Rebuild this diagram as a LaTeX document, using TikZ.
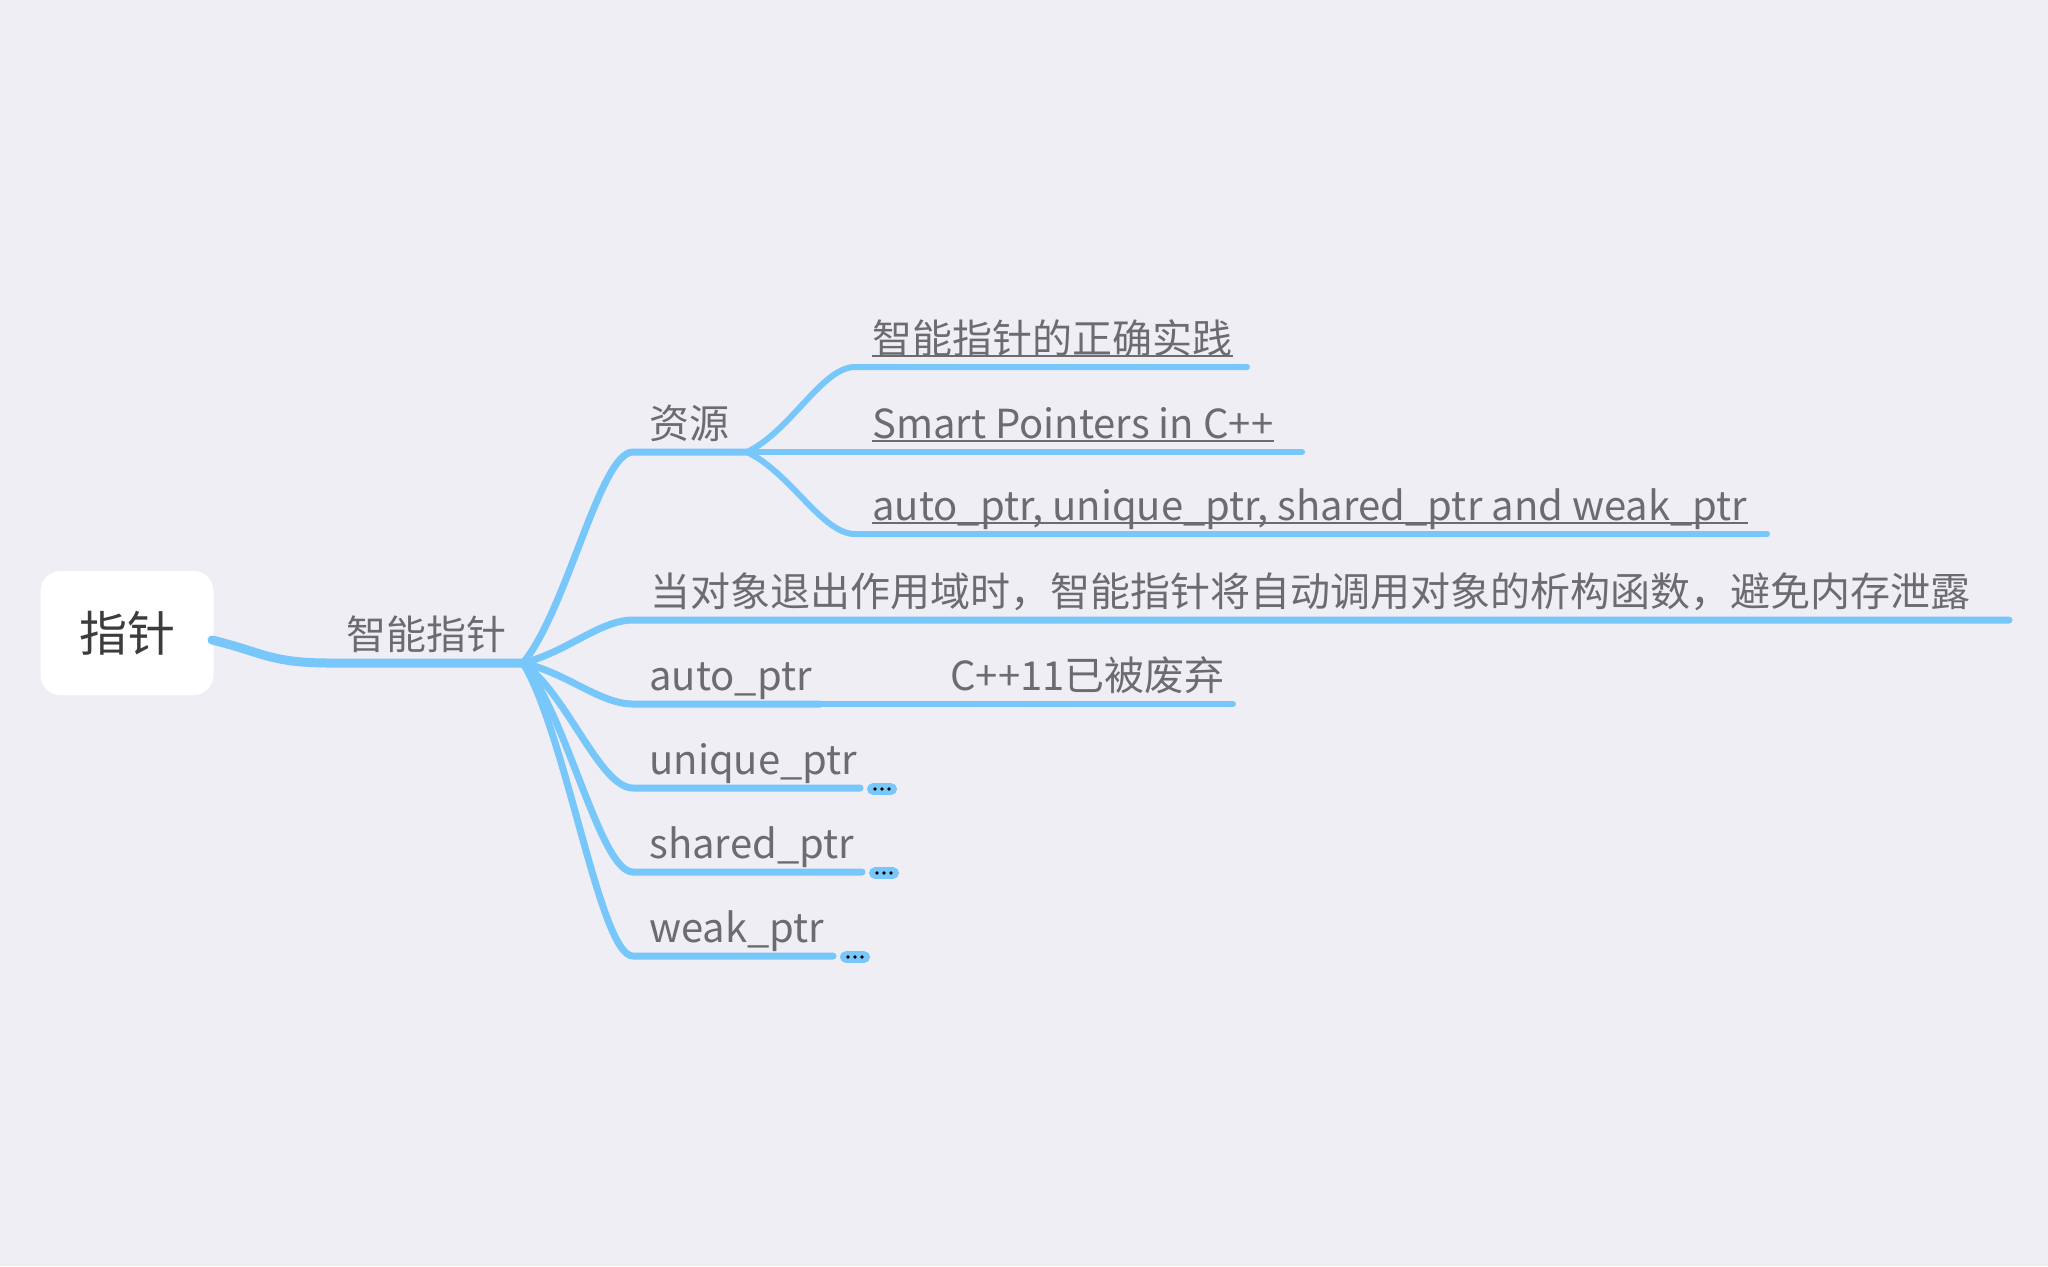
\documentclass[tikz,border=0pt]{standalone}
\usepackage{fontspec}
\setmainfont{Noto Sans CJK SC}
\definecolor{bg}{RGB}{239,238,245}
\definecolor{ln}{RGB}{120,199,250}
\definecolor{tx}{RGB}{108,108,112}
\definecolor{rt}{RGB}{60,60,60}
\begin{document}
\begin{tikzpicture}[x=0.5pt,y=-0.5pt,
  lbl/.style={anchor=base west, inner sep=0pt, text=tx, font=\fontsize{20pt}{24pt}\selectfont},
  trunk/.style={draw=ln, line width=4.5pt, line cap=round},
  br/.style={draw=ln, line width=3.5pt, line cap=round},
  sub/.style={draw=ln, line width=3pt, line cap=round},
  uline/.style={draw=tx, line width=1pt},
  more/.style={fill=ln, rounded corners=2.8pt, minimum width=15pt, minimum height=5.8pt, inner sep=0pt},
  dot/.style={fill=black, circle, inner sep=0pt, minimum size=1.9pt},
]
\fill[bg] (0,0) rectangle (2048,1266);
\useasboundingbox (0,0) rectangle (2048,1266);

% root
\node[fill=white, rounded corners=10pt, minimum width=86.5pt, minimum height=62pt, inner sep=0pt,
  text=rt, font=\fontsize{24pt}{28pt}\selectfont] (root) at (127,633) {指针};

% coordinates
\coordinate (r0) at (212,640);
\coordinate (t1) at (330,663);
\coordinate (b0) at (523,663);
\coordinate (zys) at (633,452);
\coordinate (zye) at (747,452);
\coordinate (ds) at (633,620);
\coordinate (de) at (2009,620);
\coordinate (as) at (633,704);
\coordinate (ae) at (820,704);
\coordinate (ce) at (1233,704);
\coordinate (us) at (633,788);
\coordinate (ue) at (860,788);
\coordinate (ss) at (633,872);
\coordinate (se) at (862,872);
\coordinate (ws) at (633,956);
\coordinate (we) at (833,956);
\coordinate (s1s) at (855,367);
\coordinate (s1e) at (1247,367);
\coordinate (s2e) at (1302,452);
\coordinate (s3s) at (855,534);
\coordinate (s3e) at (1767,534);

% trunk
\draw[trunk] (r0) .. controls +(50,12) and +(-60,0) .. (t1) -- (b0);

% branches
\draw[br] (b0) .. controls +(44,-53) and +(-33,0) .. (zys) -- (zye);
\draw[br] (b0) .. controls +(44,-11) and +(-33,0) .. (ds) -- (de);
\draw[br] (b0) .. controls +(44,10) and +(-33,0) .. (as) -- (ae);
\draw[br] (b0) .. controls +(44,31) and +(-33,0) .. (us) -- (ue);
\draw[br] (b0) .. controls +(44,52) and +(-33,0) .. (ss) -- (se);
\draw[br] (b0) .. controls +(44,73) and +(-33,0) .. (ws) -- (we);
\draw[sub] (ae) -- (ce);

% sub branches
\draw[sub] (zye) .. controls +(44,-21) and +(-33,0) .. (s1s) -- (s1e);
\draw[sub] (zye) -- (s2e);
\draw[sub] (zye) .. controls +(44,21) and +(-33,0) .. (s3s) -- (s3e);

% labels
\node[lbl] (zn) at (346,649) {智能指针};
\node[lbl] (zy) at (649,438) {资源};
\node[lbl] (d) at (650,606) {当对象退出作用域时，智能指针将自动调用对象的析构函数，避免内存泄露};
\node[lbl] (a) at (649,690) {auto\_ptr};
\node[lbl] (c) at (950,690) {C++11已被废弃};
\node[lbl] (u) at (649,774) {unique\_ptr};
\node[lbl] (s) at (649,858) {shared\_ptr};
\node[lbl] (w) at (649,942) {weak\_ptr};
\node[lbl] (l1) at (872,353) {智能指针的正确实践};
\node[lbl] (l2) at (872,438) {Smart Pointers in C++};
\node[lbl] (l3) at (872,520) {auto\_ptr, unique\_ptr, shared\_ptr and weak\_ptr};

% underlines
\foreach \n in {l1,l2,l3}
  \draw[uline] ([yshift=-1.4pt]\n.base west) -- ([yshift=-1.4pt]\n.base east);

% collapse markers
\foreach \n/\x/\y in {mu/882/789, ms/884/873, mw/855/957} {
  \node[more] (\n) at (\x,\y) {};
  \node[dot] at ([xshift=-3.5pt]\n.center) {};
  \node[dot] at (\n.center) {};
  \node[dot] at ([xshift=3.5pt]\n.center) {};
}
\end{tikzpicture}
\end{document}
